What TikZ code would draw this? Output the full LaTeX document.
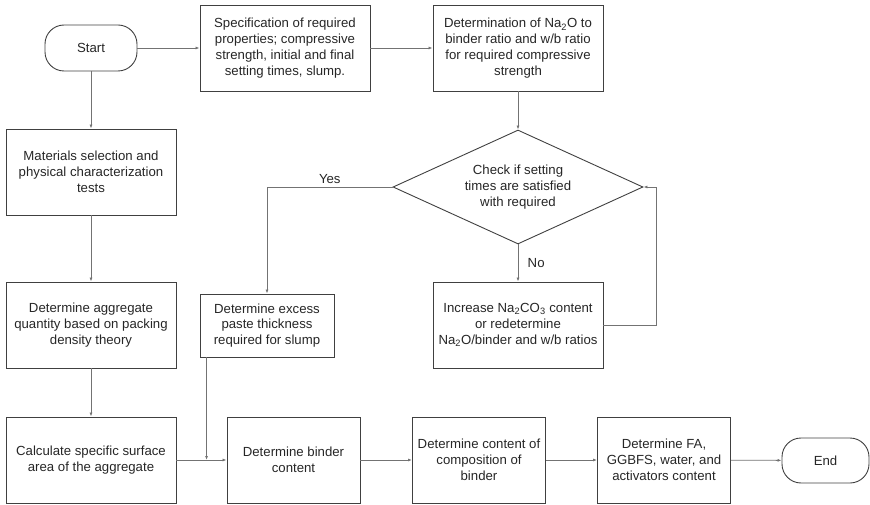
\documentclass[tikz,border=0pt]{standalone}
\usepackage{fontspec}
\setmainfont{Liberation Sans}
\usetikzlibrary{shapes.geometric,arrows.meta}
\begin{document}
\begin{tikzpicture}[x=1pt,y=-1pt,
  every node/.style={font=\fontsize{13.2}{15.8}\selectfont, align=center, text=black!85},
  box/.style={draw=black!75, line width=0.9pt, rectangle, inner sep=0pt, minimum width=170pt, minimum height=86pt},
  term/.style={draw=black!75, line width=0.9pt, rectangle, rounded corners=19pt, inner sep=0pt},
  dec/.style={draw=black!75, line width=0.9pt, diamond, inner sep=0pt, minimum width=250pt, minimum height=114pt, shape aspect=2.19},
  conn/.style={draw=black!55, line width=0.8pt, -{Latex[length=4pt,width=3pt]}},
  lbl/.style={font=\fontsize{13.2}{15.8}\selectfont}
]
\useasboundingbox (0,0) rectangle (870,505);
\node[term, minimum width=92pt, minimum height=46pt] (start) at (91,48) {Start};
\node[box] (spec) at (285,48) {Specification of required\\properties; compressive\\strength, initial and final\\setting times, slump.};
\node[box] (na) at (518,48) {Determination of Na\textsubscript{2}O to\\binder ratio and w/b ratio\\for required compressive\\strength};
\node[dec] (check) at (518,187) {Check if setting\\times are satisfied\\with required};
\node[box] (mat) at (91,172) {Materials selection and\\physical characterization\\tests};
\node[box] (agg) at (91,325) {Determine aggregate\\quantity based on packing\\density theory};
\node[box, minimum width=134pt, minimum height=63pt] (paste) at (267,325.5) {Determine excess\\paste thickness\\required for slump};
\node[box] (inc) at (518,325) {Increase Na\textsubscript{2}CO\textsubscript{3} content\\or redetermine\\Na\textsubscript{2}O/binder and w/b ratios};
\node[box] (calc) at (91,460) {Calculate specific surface\\area of the aggregate};
\node[box, minimum width=133pt] (bind) at (293.5,460) {Determine binder\\content};
\node[box, minimum width=133pt] (comp) at (479,460) {Determine content of\\composition of\\binder};
\node[box, minimum width=133pt] (fa) at (664,460) {Determine FA,\\GGBFS, water, and\\activators content};
\node[term, minimum width=87pt, minimum height=45pt] (end) at (825.5,460.5) {End};

\coordinate (loopc) at (656,187);
\coordinate (yesc) at (267,187);

\draw[conn] (start) -- (spec);
\draw[conn] (spec) -- (na);
\draw[conn] (na) -- (check);
\draw[conn] (check.south) -- node[lbl, right, pos=0.5, xshift=6pt] {No} (inc.north);
\draw[conn] (inc.east) -| (loopc) -- (check.east);
\draw[conn] (check.west) -- node[lbl, above, pos=0.5] {Yes} (yesc) -- (paste.north);
\draw[conn] (start) -- (mat);
\draw[conn] (mat) -- (agg);
\draw[conn] (agg) -- (calc);
\draw[conn] (calc) -- (bind);
\draw[conn] ([xshift=7pt]paste.south west) -- ([xshift=7pt]paste.south west |- calc.east);
\draw[conn] (bind) -- (comp);
\draw[conn] (comp) -- (fa);
\draw[conn] (fa) -- (end);
\end{tikzpicture}
\end{document}
